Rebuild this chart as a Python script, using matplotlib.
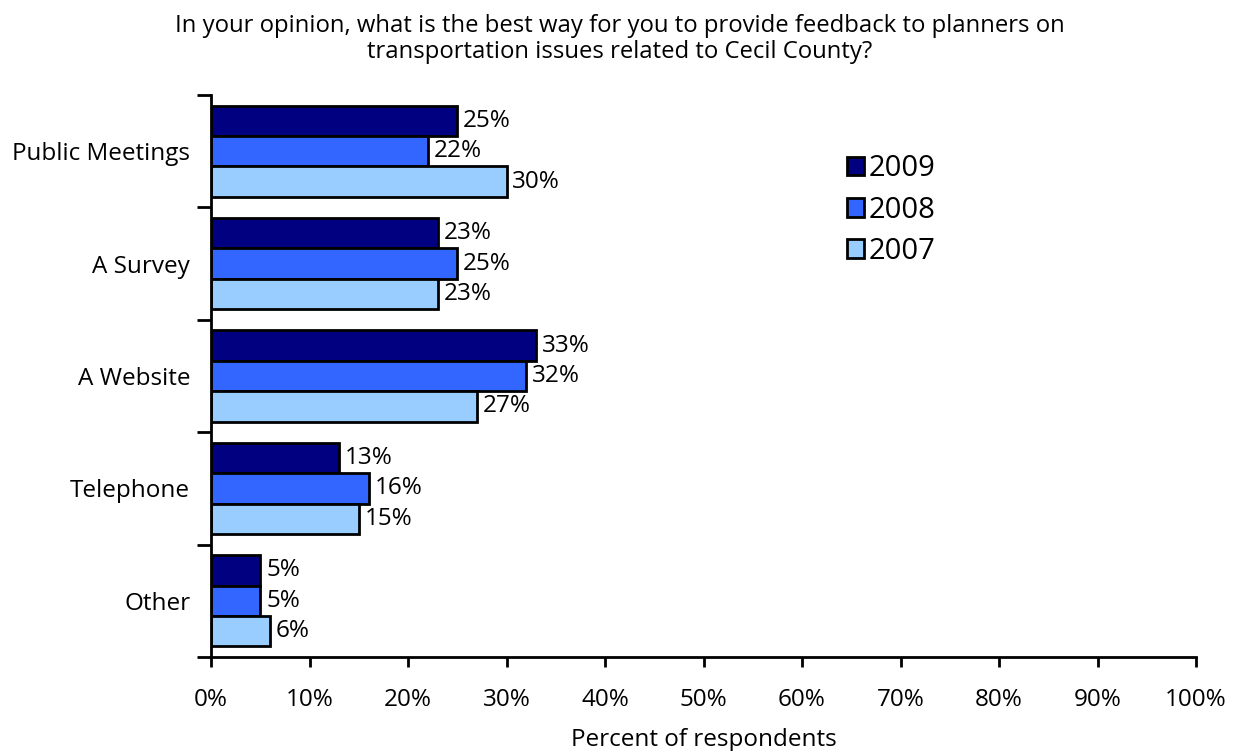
import matplotlib
matplotlib.use("Agg")
import matplotlib.pyplot as plt
import numpy as np
from matplotlib.patches import Patch

categories = ["Public Meetings", "A Survey", "A Website", "Telephone", "Other"]
series_names = ["2009", "2008", "2007"]
values_2009 = [25, 23, 33, 13, 5]
values_2008 = [22, 25, 32, 16, 5]
values_2007 = [30, 23, 27, 15, 6]
colors = ["#000080", "#3366FF", "#99CCFF"]
xtick_values = [0, 10, 20, 30, 40, 50, 60, 70, 80, 90, 100]

plt.rcParams["font.family"] = ["Open Sans", "DejaVu Sans"]
FS = 17.5

fig = plt.figure(figsize=(12.39, 7.51), dpi=100)
ax = fig.add_axes([0.1703, 0.1252, 0.7950, 0.7483])

series = [values_2009, values_2008, values_2007]
n = len(categories)
bar_h = 0.27
ys = np.arange(n)
for i, (vals, col) in enumerate(zip(series, colors)):
    pos = ys + (i - 1) * bar_h
    bars = ax.barh(pos, vals, height=bar_h, color=col, edgecolor="black",
                   linewidth=2, label=series_names[i])
    for b, v in zip(bars, vals):
        ax.text(v + 0.6, b.get_y() + b.get_height() / 2, f"{v}%",
                va="center", ha="left", fontsize=FS)

ax.set_ylim(n - 0.5, -0.5)
ax.set_xlim(0, 100)
ax.set_xticks(xtick_values)
ax.set_xticklabels([f"{v}%" for v in xtick_values], fontsize=FS)
ax.tick_params(axis="x", direction="out", length=7, width=2, pad=15)

# category boundaries get the y ticks; labels sit at the centers
ax.set_yticks(np.arange(n + 1) - 0.5)
ax.set_yticklabels([])
ax.tick_params(axis="y", which="major", direction="out", length=10, width=2)
ax.set_yticks(ys, minor=True)
ax.set_yticklabels(categories, minor=True, fontsize=FS)
ax.tick_params(axis="y", which="minor", length=0, pad=15)

for s in ["top", "right"]:
    ax.spines[s].set_visible(False)
for s in ["left", "bottom"]:
    ax.spines[s].set_linewidth(2)

ax.set_xlabel("Percent of respondents", fontsize=FS, labelpad=12)

fig.text(0.5, 0.982, "In your opinion, what is the best way for you to provide feedback to planners on\n"
         "transportation issues related to Cecil County?",
         ha="center", va="top", fontsize=17.2, linespacing=1.12)

handles = [Patch(facecolor=c, edgecolor="black", linewidth=2) for c in colors]
fig.legend(handles, series_names, loc="upper left", bbox_to_anchor=(0.674, 0.81),
           frameon=False, fontsize=21, handlelength=0.6, handleheight=0.6,
           handletextpad=0.15, labelspacing=0.42, borderaxespad=0)

fig.savefig("out.png", dpi=100)
